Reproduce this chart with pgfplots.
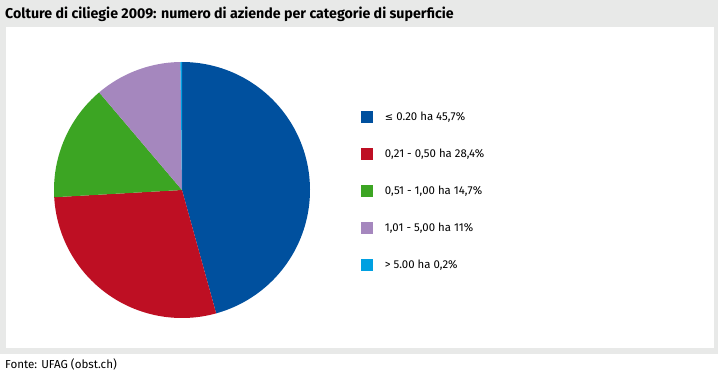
\documentclass[border=0pt]{standalone}
\usepackage{pgfplots}
\pgfplotsset{compat=1.18}
\usepackage{fontspec}
\setmainfont{Fira Sans}
\newfontfamily\symfont{DejaVu Sans}
\definecolor{bgGray}{RGB}{232,233,232}
\definecolor{cBlue}{RGB}{0,80,158}
\definecolor{cRed}{RGB}{190,15,35}
\definecolor{cGreen}{RGB}{60,165,35}
\definecolor{cPurple}{RGB}{165,135,190}
\definecolor{cLight}{RGB}{0,160,225}
\begin{document}
\begin{tikzpicture}[x=1bp,y=1bp]
\useasboundingbox (0,0) rectangle (720,377);
\fill[white] (0,0) rectangle (720,377);
\fill[bgGray] (0,23) rectangle (718,377);
\fill[white] (6,29) rectangle (714,350);
\node[anchor=base west, inner sep=0pt, font=\fontsize{14.2bp}{16bp}\selectfont\bfseries] at (5,359) {Colture di ciliegie 2009: numero di aziende per categorie di superficie};
\node[anchor=base west, inner sep=0pt, font=\fontsize{11.6bp}{14bp}\selectfont] at (5,9) {Fonte: UFAG (obst.ch)};
\begin{axis}[
  at={(182bp,187bp)}, anchor=center,
  width=256bp, height=256bp, scale only axis,
  hide axis, xmin=-1, xmax=1, ymin=-1, ymax=1, clip=false,
  legend style={at={(axis cs:1.398,0.617)}, anchor=north west, draw=none, fill=none,
    inner sep=0pt, outer sep=0pt, row sep=25bp,
    font=\fontsize{11.4bp}{14bp}\selectfont,
    nodes={inner sep=0pt, anchor=west},
    /tikz/every odd column/.append style={column sep=12bp}},
  legend cell align=left,
  legend image code/.code={\fill[#1] (0bp,-6bp) rectangle (12bp,6bp);},
]
% percentages: 45.7, 28.4, 14.7, 11, 0.2 (clockwise from top)
\addplot[fill=cBlue, draw=none, domain={90-3.6*45.7}:{90}, samples=120, variable=\t] ({cos(t)},{sin(t)}) -- (axis cs:0,0) -- cycle;
\addlegendentry{{\symfont\fontsize{10bp}{12bp}\selectfont ≤} 0.20 ha 45,7\%}
\addplot[fill=cRed, draw=none, domain={90-3.6*(45.7+28.4)}:{90-3.6*45.7}, samples=80, variable=\t] ({cos(t)},{sin(t)}) -- (axis cs:0,0) -- cycle;
\addlegendentry{0,21 - 0,50 ha 28,4\%}
\addplot[fill=cGreen, draw=none, domain={90-3.6*(45.7+28.4+14.7)}:{90-3.6*(45.7+28.4)}, samples=60, variable=\t] ({cos(t)},{sin(t)}) -- (axis cs:0,0) -- cycle;
\addlegendentry{0,51 - 1,00 ha 14,7\%}
\addplot[fill=cPurple, draw=none, domain={90-3.6*(45.7+28.4+14.7+11)}:{90-3.6*(45.7+28.4+14.7)}, samples=50, variable=\t] ({cos(t)},{sin(t)}) -- (axis cs:0,0) -- cycle;
\addlegendentry{1,01 - 5,00 ha 11\%}
\addplot[fill=cLight, draw=none, domain={90-3.6*(45.7+28.4+14.7+11+0.2)}:{90-3.6*(45.7+28.4+14.7+11)}, samples=5, variable=\t] ({cos(t)},{sin(t)}) -- (axis cs:0,0) -- cycle;
\addlegendentry{> 5.00 ha 0,2\%}
\end{axis}
\end{tikzpicture}
\end{document}
